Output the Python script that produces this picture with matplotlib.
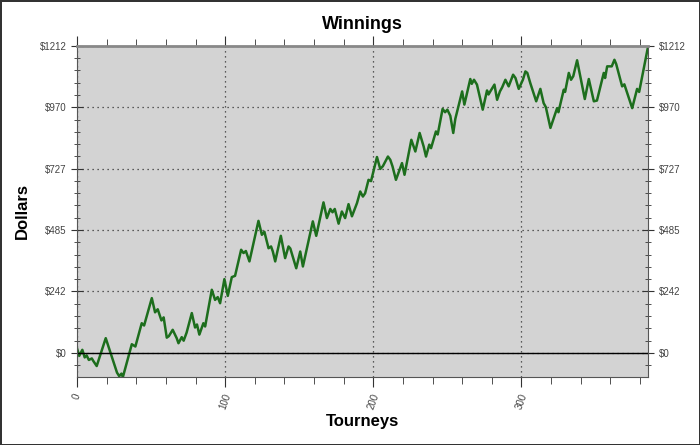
import numpy as np
import matplotlib
matplotlib.use('Agg')
import matplotlib.pyplot as plt
from matplotlib.ticker import MultipleLocator

plt.rcParams['font.family'] = ['Liberation Sans', 'DejaVu Sans']

# Tourney number and running winnings (turning points)
tourneys = [0, 1.5, 3.6, 5.2, 6.5, 8, 10, 11, 13.3, 19.4, 27, 28.5, 30, 31, 37, 39.4,
            43.7, 45.3, 50.5, 52.7, 54.5, 57, 58.5, 60.6, 62, 64.6, 67.3, 68.5, 70.7,
            72, 74, 77.5, 79.7, 81, 82.6, 85.3, 86.5, 90, 91, 93.2, 95, 96.6, 99.5,
            101.8, 104.5, 106.7, 110.8, 112.4, 114, 116.4, 122.5, 124.8, 126.5, 129.3,
            131, 132.2, 133.8, 137.6, 140.5, 142.8, 144, 148, 150.7, 152.5, 159.2,
            161.5, 166.4, 168.7, 171, 172.5, 174, 176.6, 178.8, 181, 183.3, 185.6, 189,
            191.2, 193, 194.5, 196.8, 198.5, 202.5, 204.7, 206.5, 209.9, 211.5, 213,
            215.3, 219.4, 221.1, 225.7, 228.4, 231.3, 234, 235.6, 237.8, 239, 242.3,
            243.5, 246.8, 248.5, 250, 252, 254, 255.4, 260, 261.5, 265.5, 266.5, 268,
            270, 273.9, 276.8, 277.8, 279, 281.8, 283.6, 285.5, 287, 289.2, 291.4,
            294.4, 296, 298.2, 301, 302.7, 304, 306, 310, 312.8, 315, 316.5, 319.6,
            324.1, 325, 328.6, 329.5, 332, 333.5, 335, 337.6, 342.8, 345.5, 348.9, 351,
            355.6, 356.5, 357.9, 361, 362.8, 364, 368, 369.5, 372.5, 374.8, 378.1,
            379.5, 385.6]
winnings = [18, -12, 12, -18, -10, -28, -22, -32, -52, 58, -78, -92, -82, -95, 34, 25,
            117, 108, 216, 160, 172, 128, 140, 60, 66, 91, 58, 38, 62,
            48, 80, 157, 100, 112, 72, 117, 104, 215, 249, 209, 220, 196, 291,
            225, 299, 304, 407, 394, 402, 361, 521, 466, 478, 413,
            420, 400, 361, 462, 374, 420, 412, 334, 400, 341, 519,
            462, 594, 532, 568, 555, 568, 510, 558, 532, 587, 539, 591,
            637, 617, 630, 683, 678, 773, 726, 737, 775, 762, 736,
            683, 749, 703, 841, 795, 868, 815, 775, 822, 808, 874,
            862, 963, 950, 960, 936, 868, 924, 1032, 980, 1081, 1062, 1078,
            1059, 960, 1036, 1020, 1032, 1059, 999, 1032, 1048, 1078, 1052,
            1098, 1085, 1042, 1078, 1111, 1105, 1065, 993, 1042, 986, 970, 888,
            966, 950, 1039, 1030, 1105, 1078, 1092, 1155, 1002, 1081, 993, 996,
            1105, 1085, 1131, 1131, 1157, 1140, 1052, 1060, 1006, 966, 1042,
            1030, 1212]

y_ticks = [0, 242.4, 484.8, 727.2, 969.6, 1212]
y_labels = ['$0', '$242', '$485', '$727', '$970', '$1212']
x_ticks = [0, 100, 200, 300]

fig = plt.figure(figsize=(7, 4.45), dpi=100)
fig.patch.set_edgecolor('#333333')
fig.patch.set_linewidth(2)
ax = fig.add_axes([0.11, 0.153, 0.816, 0.744])
ax.set_facecolor('#d3d3d3')

ax.plot(tourneys, winnings, color='#1d6e1d', linewidth=1.8)
ax.axhline(0, color='black', linewidth=1)

ax.set_xlim(0, max(tourneys))
ax.set_ylim(min(winnings), max(winnings))

ax.set_yticks(y_ticks)
ax.set_yticklabels(y_labels)
ax.yaxis.set_minor_locator(MultipleLocator(1212 / 25))
ax.set_xticks(x_ticks)
ax.set_xticklabels([str(x) for x in x_ticks], rotation=70, ha='center', va='top')
ax.xaxis.set_minor_locator(MultipleLocator(20))

ax.grid(True, which='major', color='#333333', linestyle=(0, (1, 3)), linewidth=0.9)
ax.tick_params(axis='y', which='both', left=True, right=True, labelright=True,
               direction='inout', labelsize=7, labelcolor='#444444', color='#333333')
ax.tick_params(axis='y', which='major', length=8)
ax.tick_params(axis='y', which='minor', length=5)
ax.tick_params(axis='x', which='both', top=True, direction='out', labelsize=7,
               labelcolor='#444444', color='#333333', pad=4)
ax.tick_params(axis='x', which='major', length=7)
ax.tick_params(axis='x', which='minor', length=5)
for s in ax.spines.values():
    s.set_color('#555555')
ax.spines['top'].set_color('#888888')
ax.spines['top'].set_linewidth(2)

ax.set_title('Winnings', fontsize=13, fontweight='bold', pad=12)
ax.set_xlabel('Tourneys', fontsize=12, fontweight='bold')
ax.set_ylabel('Dollars', fontsize=12, fontweight='bold')
ax.xaxis.set_label_coords(0.5, -0.136)
ax.yaxis.set_label_coords(-0.096, 0.5)
ax.xaxis.label.set_va('center')
ax.yaxis.label.set_va('center')

fig.savefig('out.png', dpi=100, edgecolor=fig.get_edgecolor())
